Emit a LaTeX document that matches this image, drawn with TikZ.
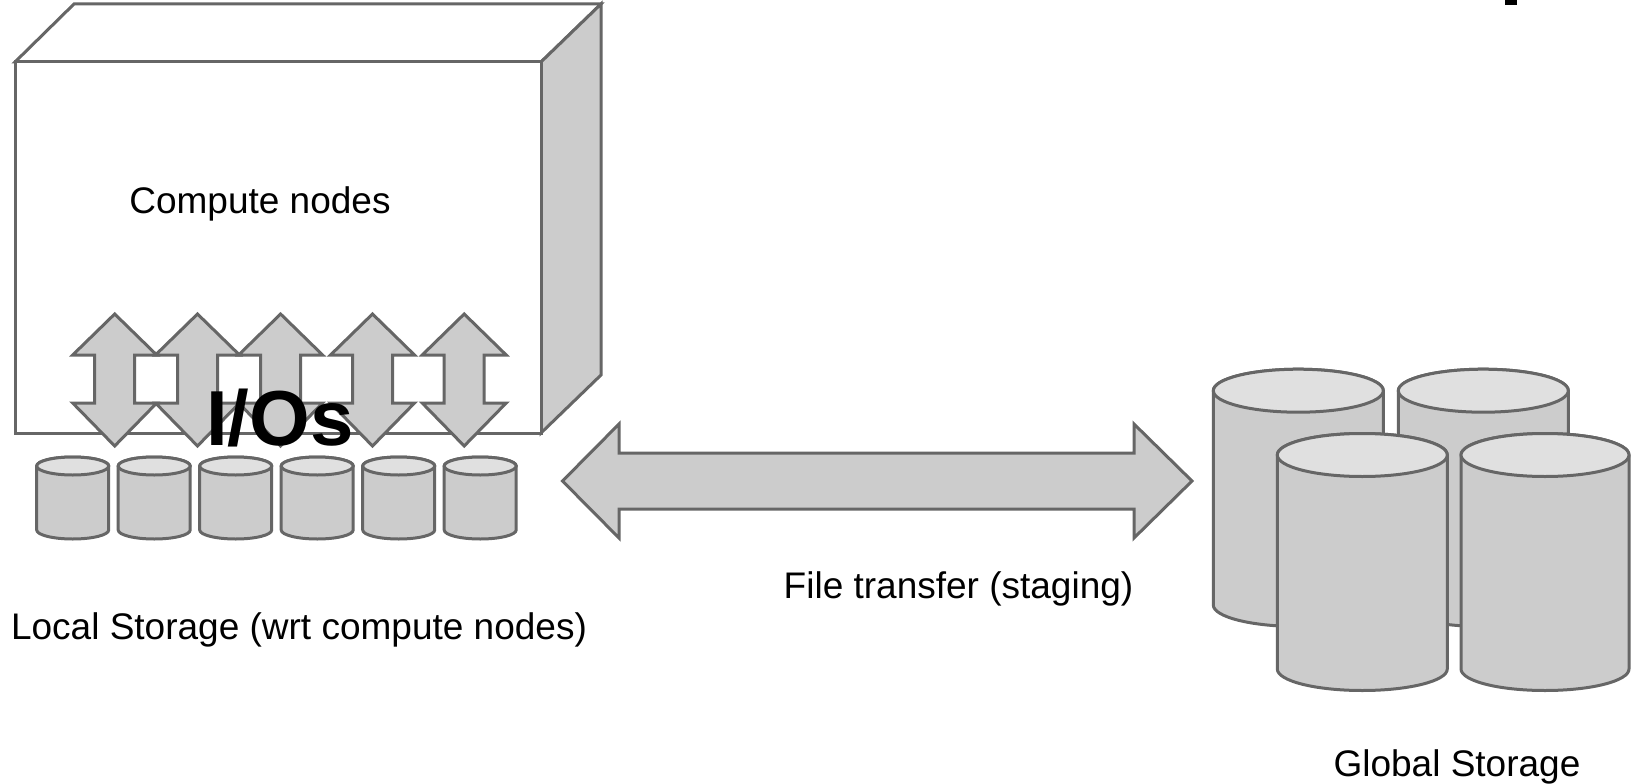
\documentclass[tikz,border=0pt]{standalone}
\usepackage{fontspec}
\setmainfont{Liberation Sans}
\definecolor{strk}{HTML}{666666}
\definecolor{bodyg}{HTML}{CCCCCC}
\definecolor{topg}{HTML}{E0E0E0}
\tikzset{
  shp/.style={draw=strk,line width=3pt},
  lbl/.style={inner sep=0pt,anchor=base,font=\fontsize{37}{44}\selectfont},
  biglbl/.style={inner sep=0pt,anchor=base,font=\fontsize{78}{90}\selectfont\bfseries},
}
% cylinder: cx, top-ellipse cy, bottom-ellipse cy, rx, ry
\newcommand\mycyl[5]{%
  \draw[shp,fill=bodyg,line join=round] (#1-#4,#2) -- (#1-#4,#3)
    arc[start angle=180,end angle=0,x radius=#4,y radius=#5] -- (#1+#4,#2)
    arc[start angle=0,end angle=-180,x radius=#4,y radius=#5] -- cycle;
  \draw[shp,fill=topg] (#1,#2) ellipse[x radius=#4,y radius=#5];
}
% vertical double arrow centred at x=#1
\newcommand\vdarrow[1]{%
  \draw[shp,fill=bodyg] (#1,314) -- (#1+42,355) -- (#1+20,355) -- (#1+20,403)
    -- (#1+42,403) -- (#1,446) -- (#1-42,403) -- (#1-20,403) -- (#1-20,355)
    -- (#1-42,355) -- cycle;
}
\begin{document}
\begin{tikzpicture}[x=1pt,y=-1pt]
\useasboundingbox (0,0) rectangle (1631,784);

% compute box
\coordinate (fa) at (15,62);
\coordinate (fb) at (541,62);
\coordinate (fc) at (541,433);
\coordinate (fd) at (15,433);
\coordinate (ba) at (74,4);
\coordinate (bb) at (601,4);
\coordinate (bc) at (601,375);
\draw[shp,fill=white] (fa) -- (ba) -- (bb) -- (fb) -- cycle;
\draw[shp,fill=bodyg] (fb) -- (bb) -- (bc) -- (fc) -- cycle;
\draw[shp,fill=white] (fa) -- (fb) -- (fc) -- (fd) -- cycle;

\node[lbl] (compute) at (260,213.5) {Compute nodes};

% I/O arrows
\vdarrow{114.7}
\vdarrow{197.5}
\vdarrow{280.6}
\vdarrow{372.5}
\vdarrow{464.2}

\node[biglbl] (ios) at (280,445) {I/Os};

% local storage cylinders
\foreach \i in {0,...,5}{
  \mycyl{72.7+81.5*\i}{466}{530}{36}{9}
}
\node[lbl] (local) at (299,639) {Local Storage (wrt compute nodes)};

% file transfer arrow
\coordinate (lt) at (562.5,481);
\coordinate (rt) at (1192,481);
\draw[shp,fill=bodyg] (lt) -- (619,424) -- (619,453) -- (1134,453) -- (1134,424)
  -- (rt) -- (1134,538) -- (1134,509) -- (619,509) -- (619,538) -- cycle;
\node[lbl] (transfer) at (958.5,598) {File transfer (staging)};

% global storage cylinders
\mycyl{1298.3}{390.7}{605}{85}{21.5}
\mycyl{1483.3}{390.7}{605}{85}{21.5}
\mycyl{1362.3}{455}{669}{85}{21.5}
\mycyl{1545}{455}{669}{84}{21.5}
\node[lbl] (global) at (1457,776.7) {Global Storage};

% cut-off black fragment at top right
\fill[black] (1505,0) rectangle (1517,5);
\end{tikzpicture}
\end{document}
